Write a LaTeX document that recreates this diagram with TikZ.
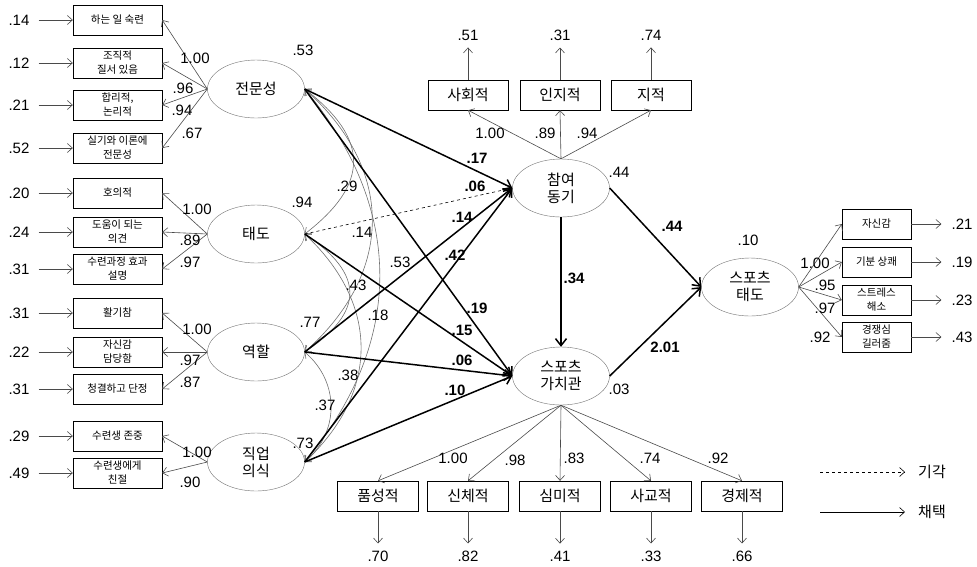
\documentclass[tikz,border=0pt]{standalone}
\usepackage{fontspec}
\setmainfont{Liberation Sans}
\newfontfamily\kr{Noto Sans CJK KR}
\usepackage{xcolor}
\definecolor{linegray}{HTML}{4a4a4a}
\definecolor{curvegray}{HTML}{707070}
\usetikzlibrary{arrows.meta, shapes.geometric}

\begin{document}
\begin{tikzpicture}[x=1pt, y=-1pt, font=\fontsize{15}{17}\selectfont,
  num/.style={inner sep=1pt},
  bnum/.style={inner sep=1pt, font=\fontsize{15}{17}\selectfont\bfseries},
  krtext/.style={inner sep=1pt, font=\kr\fontsize{15}{17}\selectfont},
  latent/.style={draw=curvegray, ellipse, minimum width=97pt, minimum height=58pt, inner sep=0pt, align=center, font=\kr\fontsize{15}{17}\selectfont},
  bigbox/.style={draw, minimum width=81pt, minimum height=30pt, inner sep=0pt, font=\kr\fontsize{15}{17}\selectfont},
  smallbox/.style={draw, minimum height=30pt, inner sep=0pt, align=center, font=\kr\fontsize{10.5}{14}\selectfont},
  load/.style={draw=linegray, line width=0.6pt, -{Straight Barb[length=5pt,width=9pt]}},
  err/.style={load, shorten <=8pt},
  spath/.style={line width=1.5pt, -{Straight Barb[length=7pt,width=11pt]}},
  cor/.style={draw=curvegray, line width=0.6pt, {Straight Barb[length=5pt,width=9pt]}-{Straight Barb[length=5pt,width=9pt]}}]
  \useasboundingbox (0,0) rectangle (977,566);
  % Latent factors.
  \node[latent] (zm) at (256,89)  {전문성};
  \node[latent] (td) at (256,234) {태도};
  \node[latent] (yh) at (256,352) {역할};
  \node[latent] (jy) at (256,462) {직업\\의식};
  \node[latent] (cm) at (561,188) {참여\\동기};
  \node[latent] (sv) at (561,376) {스포츠\\가치관};
  \node[latent] (sa) at (750,287) {스포츠\\태도};
  % Left indicators (box, error, loading arrow).
  \foreach \n/\f/\y/\t/\e in {zm1/zm/20/{하는 일 숙련}/.14, zm2/zm/63/{조직적\\질서 있음}/.12,
      zm3/zm/105/{합리적,\\논리적}/.21, zm4/zm/148/{실기와 이론에\\전문성}/.52,
      td1/td/193/{호의적}/.20, td2/td/232/{도움이 되는\\의견}/.24, td3/td/269/{수련과정 효과\\설명}/.31,
      yh1/yh/313/{활기참}/.31, yh2/yh/352/{자신감\\담당함}/.22, yh3/yh/389/{청결하고 단정}/.31,
      jy1/jy/436/{수련생 존중}/.29, jy2/jy/473/{수련생에게\\친절}/.49} {
    \node[smallbox, minimum width=89pt] (\n) at (117.5,\y) {\t};
    \node[num] (\n-e) at (19,\y) {\e};
    \draw[err] (\n-e) -- (\n);
    \draw[load] (\f.west) -- (\n.east);
  }
  % Right indicators.
  \foreach \n/\y/\t/\e in {sa1/224/{자신감}/.21, sa2/262/{기분 상쾌}/.19,
      sa3/300/{스트레스\\해소}/.23, sa4/337/{경쟁심\\길러줌}/.43} {
    \node[smallbox, minimum width=69pt] (\n) at (876.5,\y) {\t};
    \node[num] (\n-e) at (962,\y) {\e};
    \draw[load, shorten >=9pt] (\n) -- (\n-e);
    \draw[load] (sa.east) -- (\n.west);
  }
  % Top indicators.
  \foreach \n/\x/\t/\e in {cm1/468/사회적/.51, cm2/560/인지적/.31, cm3/651/지적/.74} {
    \node[bigbox, minimum width=80pt] (\n) at (\x,95) {\t};
    \node[num] (\n-e) at (\x,35) {\e};
    \draw[load, shorten >=6pt] (\n) -- (\n-e);
    \draw[load] (cm.north) -- (\n.south);
  }
  % Bottom indicators.
  \foreach \n/\x/\t/\e in {sv1/378/품성적/.70, sv2/468/신체적/.82, sv3/560/심미적/.41,
      sv4/651/사교적/.33, sv5/742/경제적/.66} {
    \node[bigbox] (\n) at (\x,496) {\t};
    \node[num] (\n-e) at (\x,556) {\e};
    \draw[load, shorten >=6pt] (\n) -- (\n-e);
    \draw[load] (sv.south) -- (\n.north);
  }
  % Loadings.
  \foreach \x/\y/\t [count=\k] in {195/58/1.00, 183/88/.96, 182/110/.94, 192/133/.67,
      197/209/1.00, 190/240/.89, 190/262/.97,
      197/329/1.00, 190/360/.97, 190/382/.87,
      197/452/1.00, 190/482/.90,
      490/133/1.00, 545/133/.89, 587/133/.94,
      453/458/1.00, 515/460/.98, 574/458/.83, 650/458/.74, 718/458/.92,
      815/263/1.00, 825/285/.95, 825/308/.97, 820/337/.92}
    \node[num] (ld\k) at (\x,\y) {\t};
  % Residual variances.
  \foreach \n/\x/\y/\t in {zm/303/50/.53, td/302/202/.94, yh/310/322/.77, jy/303/443/.73,
      cm/619/172/.44, sv/619/389/.03, sa/748/240/.10}
    \node[num] (\n-r) at (\x,\y) {\t};
  % Correlations among the exogenous factors.
  \draw[cor] (zm.east) .. controls +(65,50) and +(65,-50) .. (td.east);
  \draw[cor] (zm.east) .. controls +(90,80) and +(90,-80) .. (yh.east);
  \draw[cor] (zm.east) .. controls +(100,120) and +(100,-120) .. (jy.east);
  \draw[cor] (td.east) .. controls +(60,40) and +(60,-40) .. (yh.east);
  \draw[cor] (td.east) .. controls +(75,70) and +(75,-70) .. (jy.east);
  \draw[cor] (yh.east) .. controls +(35,30) and +(35,-30) .. (jy.east);
  \foreach \x/\y/\t [count=\k] in {347/186/.29, 362/232/.14, 356/285/.43, 378/315/.18,
      348/375/.38, 325/405/.37, 400/262/.53}
    \node[num] (rc\k) at (\x,\y) {\t};
  % Structural paths.
  \draw[spath] (zm.east) -- (cm.west);
  \draw[spath, line width=0.6pt, dashed] (td.east) -- (cm.west);
  \draw[spath] (yh.east) -- (cm.west);
  \draw[spath] (jy.east) -- (cm.west);
  \draw[spath] (zm.east) -- (sv.west);
  \draw[spath] (td.east) -- (sv.west);
  \draw[spath] (yh.east) -- (sv.west);
  \draw[spath] (jy.east) -- (sv.west);
  \draw[spath] (cm.south) -- (sv.north);
  \draw[spath] (cm.east) -- (sa.west);
  \draw[spath] (sv.east) -- (sa.west);
  \foreach \x/\y/\t [count=\k] in {477/158/.17, 475/186/.06, 462/217/.14, 455/255/.42,
      477/308/.19, 462/330/.15, 462/360/.06, 455/390/.10,
      574/278/.34, 672/226/.44, 665/347/2.01}
    \node[bnum] (pc\k) at (\x,\y) {\t};
  % Legend.
  \coordinate (lg1) at (820,472);
  \coordinate (lg2) at (820,512);
  \node[krtext] (lg1-t) at (932,472) {기각};
  \node[krtext] (lg2-t) at (932,512) {채택};
  \draw[load, draw=black, dashed, shorten >=12pt] (lg1) -- (lg1-t.west);
  \draw[load, draw=black, shorten >=12pt] (lg2) -- (lg2-t.west);
\end{tikzpicture}
\end{document}
